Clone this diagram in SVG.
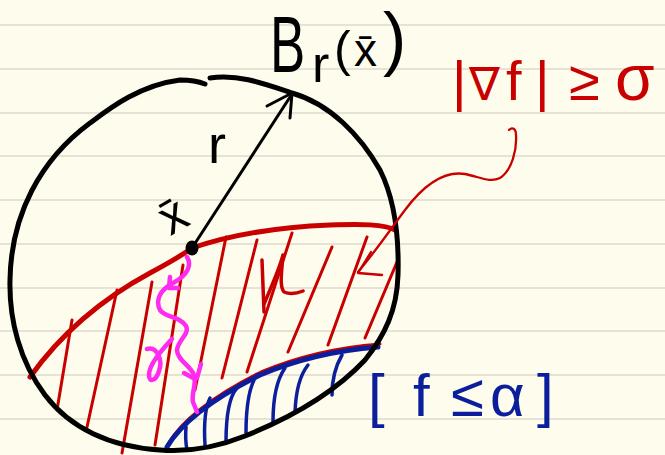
<svg xmlns="http://www.w3.org/2000/svg" width="665" height="455" viewBox="0 0 665 455">
<style>
.rule{stroke:#E6E3D6;stroke-width:2}
.ink{fill:none;stroke-linecap:round;stroke-linejoin:round}
.blk{stroke:#000}
.red{stroke:#C80000}
.blu{stroke:#0B1E9C}
.mag{stroke:#FF2BF0}
.t{font-family:"Liberation Sans","DejaVu Sans",sans-serif}
</style>
<rect width="665" height="455" fill="#FEFCEC"/>
<g id="ruling">
<line class="rule" x1="0" y1="25" x2="665" y2="25"/>
<line class="rule" x1="0" y1="69" x2="665" y2="69"/>
<line class="rule" x1="0" y1="113" x2="665" y2="113"/>
<line class="rule" x1="0" y1="156" x2="665" y2="156"/>
<line class="rule" x1="0" y1="200" x2="665" y2="200"/>
<line class="rule" x1="0" y1="244" x2="665" y2="244"/>
<line class="rule" x1="0" y1="288" x2="665" y2="288"/>
<line class="rule" x1="0" y1="331" x2="665" y2="331"/>
<line class="rule" x1="0" y1="375" x2="665" y2="375"/>
<line class="rule" x1="0" y1="419" x2="665" y2="419"/>
</g>
<g id="hatch-red" class="ink red" stroke-width="3">
<path d="M72,320 L57,410"/>
<path d="M117,290 L87,427"/>
<path d="M152,282 L122,453"/>
<path d="M183,265 L155,445"/>
<path d="M226,237 L195,390"/>
<path d="M257,240 L222,378"/>
<path d="M292,233 L247,372"/>
<path d="M332,247 L288,352"/>
<path d="M367,237 L328,345"/>
<path d="M397,262 L365,338"/>
</g>
<g id="region-grad" class="ink red" stroke-width="5">
<path d="M30,377 C60,335 100,300 150,273 C165,265 178,258 192,248 C230,235 280,227 330,225 C360,224 385,224 395,230"/>
</g>
<g id="mu" class="ink red" stroke-width="3.5">
<path d="M262,260 L264,312"/>
<path d="M264,304 C270,290 279,270 283,255 C282,270 279,286 284,292 C291,295 298,293 303,291"/>
</g>
<g id="sublevel" class="ink">
<path class="red" stroke-width="3" d="M168,444 C181,422 211,397 261,372 C301,355 341,347 380,344"/>
<path class="blu" stroke-width="5" d="M167,447 C180,425 210,400 260,375 C300,358 340,350 378,347"/>
<g class="blu" stroke-width="3.5">
<path d="M186,427 Q185,440 187,450"/>
<path d="M210,398 Q203,412 205,445"/>
<path d="M237,388 Q226,400 226,442"/>
<path d="M257,375 Q246,390 246,433"/>
<path d="M285,368 Q273,385 273,422"/>
<path d="M308,365 Q296,380 295,413"/>
<path d="M342,355 Q332,372 332,395"/>
</g>
</g>
<g id="ball" class="ink blk" stroke-width="5">
<path d="M210,78 C240,74 265,84 292,93 C330,104 360,135 380,170 C395,200 399,240 398,275 C397,310 385,335 365,360 C335,392 290,418 245,436 C215,448 185,452 160,450 C110,447 70,428 45,395 C20,362 9,320 10,280 C11,215 40,160 90,123 C110,108 140,85 180,80 C192,80 200,82 205,84"/>
</g>
<g id="connectors" class="ink">
<g id="radius" class="blk" stroke-width="3">
<path d="M192,248 L292,94"/>
<path d="M267,106 L292,93 L290,118"/>
</g>
<g id="pointer" class="red" stroke-width="2.3">
<path d="M509,130 C512,127 516,128 516,135 C517,150 512,170 500,178 C490,183 480,177 465,174 C440,170 420,190 405,210 C390,230 375,252 358,272"/>
<path d="M371,252 L358,273 L382,275"/>
</g>
<g id="gamma-path" class="mag" stroke-width="4.5">
<path d="M187,257 C192,265 188,275 173,283 C160,290 155,300 160,310 C165,318 180,316 186,326 C190,334 178,340 177,350 C177,360 190,365 194,375 C197,385 191,392 193,402 L197,412"/>
<path d="M170,277 L169,288 L178,288"/>
<path d="M184,373 L195,379 M201,364 L197,378"/>
</g>
</g>
<g id="center">
<ellipse cx="192" cy="248" rx="6.5" ry="7.5" fill="#000"/>
<text class="t" transform="translate(181,230) rotate(-30)" text-anchor="middle" font-size="50" fill="#000">x̄</text>
</g>
<g id="label-r"><text class="t" x="208" y="163" font-size="54" fill="#000">r</text></g>
<g id="label-ball" fill="#000">
<text class="t" transform="translate(270,72) scale(0.66,1)" font-size="80">B</text>
<text class="t" x="312" y="82" font-size="52">r</text>
<text class="t" x="334" y="66" font-size="50">(</text>
<text class="t" x="354" y="66" font-size="46">x̄</text>
<text class="t" x="383" y="62" font-size="70">)</text>
</g>
<g id="label-grad" fill="#C80000">
<text class="t" y="100" font-size="56"><tspan x="452">|</tspan><tspan x="469" font-size="46">∇</tspan><tspan x="506">f</tspan><tspan x="535">|</tspan><tspan x="569">≥</tspan><tspan x="615" font-size="64">σ</tspan></text>
</g>
<g id="gamma-label" class="ink mag" stroke-width="4.5">
<path d="M147,349 C157,346 163,360 159,371 C156,381 149,383 149,375 C149,364 162,350 172,339"/>
</g>
<g id="label-sublevel" fill="#0B1E9C">
<text class="t" y="416" font-size="60"><tspan x="368">[</tspan><tspan x="413">f</tspan><tspan x="451">≤</tspan><tspan x="490">α</tspan><tspan x="537">]</tspan></text>
</g>
</svg>
